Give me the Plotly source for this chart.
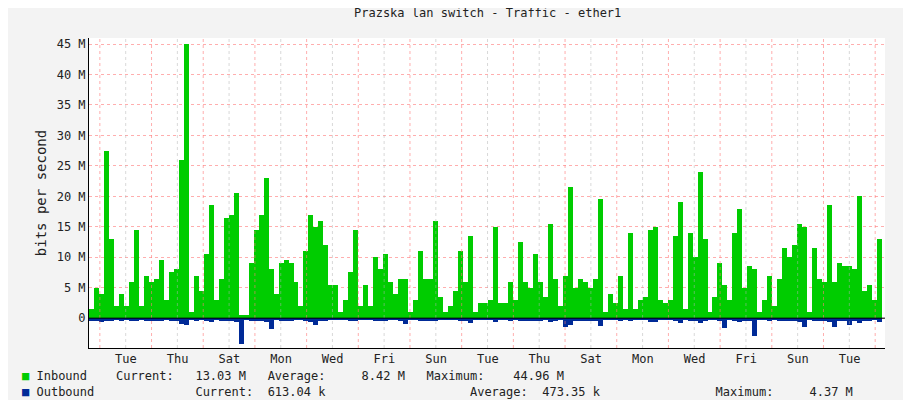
import plotly.graph_objects as go

# one bar every 0.193 day (approx 5 px in the original)
step = 0.193
inbound = [1.5, 5, 4, 27.5, 13, 2, 4, 2, 6, 14.5, 2, 7, 6, 6.5, 9.5, 3, 7.5, 8, 26, 45,
           1, 7, 4.5, 10.5, 18.5, 3, 6.5, 16.5, 17, 20.5, 0.5, 0.5, 9, 14.5, 17, 23, 8, 4, 9, 9.5,
           9, 6, 2, 11, 17, 15, 16, 12, 5.5, 5.5, 1, 3, 7.5, 14.5, 2, 5.5, 2, 10, 8, 10.5,
           6, 4, 6.5, 6.5, 1, 3, 11, 6.5, 6.5, 16, 3.5, 1, 2, 4.5, 11, 6, 13.5, 1, 2.5, 2.5,
           3, 15, 2.5, 2.5, 6, 3, 12.5, 6, 5, 10.5, 6, 3.5, 15.5, 6.5, 2, 7, 21.5, 5, 6.5, 6,
           5, 6.5, 19.5, 1, 4, 2.5, 7, 1.5, 14, 1.5, 3, 3.5, 14.5, 15, 3, 2.5, 3, 13.5, 19, 1.5,
           14, 10, 24, 13, 1, 3.5, 9, 5.5, 3, 14, 18, 5, 8.5, 8, 1, 3, 7, 2, 6.5, 11.5,
           10, 12, 15.5, 15, 1, 11.5, 6.5, 6, 18.5, 6, 9, 8.5, 8.5, 8, 20, 4.5, 5.5, 3, 13]
outbound = [0.4, 0.5, 0.7, 0.5, 0.4, 0.3, 0.4, 0.3, 0.4, 0.5, 0.3, 0.4, 0.4, 0.4, 0.5, 0.3, 0.4, 0.5, 1.0, 1.2,
            0.3, 0.4, 0.3, 0.5, 0.6, 0.3, 0.4, 0.5, 0.5, 0.6, 4.3, 0.3, 0.4, 0.5, 0.5, 0.6, 1.7, 0.3, 0.4, 0.4,
            0.4, 0.3, 0.3, 0.4, 0.6, 1.2, 0.5, 0.4, 0.3, 0.3, 0.2, 0.3, 0.4, 0.5, 0.3, 0.3, 0.2, 0.4, 0.4, 0.5,
            0.3, 0.3, 0.4, 1.0, 0.2, 0.3, 0.4, 0.4, 0.4, 0.5, 0.3, 0.2, 0.3, 0.3, 0.5, 0.4, 0.8, 0.2, 0.3, 0.3,
            0.3, 0.6, 0.3, 0.3, 0.4, 0.3, 0.5, 0.4, 0.4, 0.5, 0.4, 0.3, 0.6, 0.4, 0.3, 1.5, 1.2, 0.4, 0.4, 0.4,
            0.4, 0.5, 1.3, 0.2, 0.3, 0.3, 0.4, 0.2, 0.5, 0.2, 0.3, 0.3, 0.6, 0.6, 0.3, 0.3, 0.3, 0.5, 0.8, 0.2,
            0.5, 0.5, 0.8, 0.5, 0.2, 0.3, 0.4, 1.6, 0.3, 0.5, 0.6, 0.4, 0.4, 3.0, 0.2, 0.3, 0.4, 0.2, 0.4, 0.5,
            0.5, 0.5, 0.6, 1.5, 0.2, 0.5, 0.4, 0.4, 0.6, 1.4, 0.5, 0.5, 1.2, 0.5, 0.8, 0.4, 0.4, 0.3, 0.6]
day_labels = ["Tue", "Thu", "Sat", "Mon", "Wed", "Fri", "Sun", "Tue", "Thu", "Sat", "Mon", "Wed", "Fri", "Sun", "Tue"]
y_ticks = [0, 5, 10, 15, 20, 25, 30, 35, 40, 45]

x = [step * (i + 0.5) for i in range(len(inbound))]
label_pos = [1.43 + 2 * i for i in range(len(day_labels))]

fig = go.Figure()
fig.add_trace(go.Bar(x=x, y=inbound, width=step, marker=dict(color="#00CC00", line_width=0)))
fig.add_trace(go.Bar(x=x, y=[-v for v in outbound], width=step, marker=dict(color="#002A97", line_width=0)))

shapes = []
d = 0.42
while d < 30.8:
    shapes.append(dict(type="line", xref="x", yref="paper", x0=d, x1=d, y0=0, y1=1,
                       line=dict(color="rgba(255,120,120,0.6)", width=1, dash="dot"), layer="above"))
    d += 2
d = 0.42 + 1
while d < 30.8:
    shapes.append(dict(type="line", xref="x", yref="paper", x0=d, x1=d, y0=0, y1=1,
                       line=dict(color="rgba(180,180,180,0.5)", width=1, dash="dot"), layer="above"))
    d += 2
shapes.append(dict(type="line", xref="paper", yref="y", x0=0, x1=1, y0=0, y1=0,
                   line=dict(color="black", width=1)))

mono = "DejaVu Sans Mono"
annotations = [
    dict(text="Prazska lan switch - Traffic - ether1", x=0.5, y=1.08, xref="paper", yref="paper",
         xanchor="center", yanchor="middle", showarrow=False, font=dict(size=12)),
    dict(text="RRDTOOL / TOBI OETIKER", x=1.033, y=1.08, xref="paper", yref="paper", showarrow=False,
         textangle=90, xanchor="center", yanchor="top", font=dict(size=8, color="#999999")),
]
legend_rows = [
    ("#00CC00", "Inbound    Current:   13.03 M   Average:     8.42 M   Maximum:    44.96 M", -0.09),
    ("#002A97", "Outbound              Current:  613.04 k                    Average:  473.35 k                Maximum:     4.37 M", -0.142),
]
for color, text, yy in legend_rows:
    annotations.append(dict(text="<span style='color:%s'>■</span> " % color + text, x=-0.087, y=yy,
                            xref="paper", yref="paper", xanchor="left", yanchor="middle",
                            showarrow=False, font=dict(size=12)))

fig.update_layout(
    width=911, height=400, barmode="overlay", bargap=0, showlegend=False,
    paper_bgcolor="#F3F3F3", plot_bgcolor="white",
    margin=dict(l=81, r=34, t=30, b=60, autoexpand=False),
    font=dict(family=mono, size=12, color="#222222"),
    shapes=shapes, annotations=annotations,
    xaxis=dict(range=[0, 30.8], tickvals=label_pos, ticktext=day_labels, showgrid=False,
               ticks="", zeroline=False, showline=True, linecolor="black", automargin=False),
    yaxis=dict(range=[-4.9, 46], tickvals=y_ticks,
               ticktext=[("%d M" % v) if v else "0" for v in y_ticks],
               gridcolor="rgba(255,120,120,0.6)", griddash="dot", zeroline=False,
               showline=True, linecolor="black", ticks="", automargin=False,
               title=dict(text="bits per second", standoff=6)),
)
fig.write_html("out.html")
